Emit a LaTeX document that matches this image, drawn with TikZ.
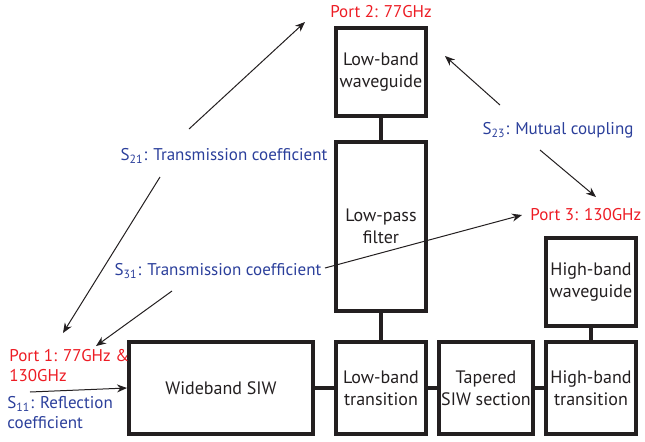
\documentclass[tikz,border=0pt]{standalone}
\usepackage{fontspec}
\setmainfont{PT Sans}
\usetikzlibrary{arrows.meta,positioning}
\definecolor{PortRed}{HTML}{ED1C24}
\definecolor{SparBlue}{HTML}{2B3F9B}
\definecolor{InkGrey}{HTML}{231F20}
\tikzset{
  % Block
  blk/.style={rectangle,draw=InkGrey,line width=2pt,
              minimum width=45pt,minimum height=46pt,
              text centered,align=center,inner sep=1pt,text=InkGrey,
              font=\fontsize{9}{11}\selectfont},
  % Link between blocks
  link/.style={draw=InkGrey,line width=2pt},
  % Arrow
  arr/.style={-{Stealth[length=5pt,width=4pt]},line width=0.5pt,draw=InkGrey},
  % Label styles
  PL/.style={text=PortRed,inner sep=0pt,align=left,
             font=\fontsize{8.5}{10.2}\selectfont},
  SL/.style={text=SparBlue,inner sep=0pt,align=left,
             font=\fontsize{8.5}{10.2}\selectfont}
}

\begin{document}
\begin{tikzpicture}[x=0.5pt,y=-0.5pt]
  \useasboundingbox (0,0) rectangle (645,441);

  % blocks
  \node[blk,minimum height=44pt]   (lbwg) at (381,72)    {Low-band\\waveguide};
  \node[blk,minimum height=84.5pt] (lpf)  at (381,226.5) {Low-pass\\filter};
  \node[blk,minimum width=92pt]    (wsiw) at (221,388)   {Wideband SIW};
  \node[blk]                       (lbtr) at (381,388)   {Low-band\\transition};
  \node[blk]                       (tsiw) at (486,388)   {Tapered\\SIW section};
  \node[blk]                       (hbtr) at (591,388)   {High-band\\transition};
  \node[blk,minimum height=44pt]   (hbwg) at (591,282)   {High-band\\waveguide};

  \draw[link](lbwg)--(lpf);
  \draw[link](lpf)--(lbtr);
  \draw[link](wsiw)--(lbtr);
  \draw[link](lbtr)--(tsiw);
  \draw[link](tsiw)--(hbtr);
  \draw[link](hbwg)--(hbtr);

  % port labels
  \node[PL]                  (p2) at (381,12)  {Port 2: 77GHz};
  \node[PL,anchor=west]      (p3) at (530,215) {Port 3: 130GHz};
  \node[PL,anchor=north west](p1) at (9,349)   {Port 1: 77GHz \&\\130GHz};

  % S-parameter labels
  \node[SL]                  (s21) at (224,156) {S\textsubscript{21}: Transmission coefficient};
  \node[SL]                  (s31) at (218,271) {S\textsubscript{31}: Transmission coefficient};
  \node[SL]                  (s23) at (558,130) {S\textsubscript{23}: Mutual coupling};
  \node[SL,anchor=north west](s11) at (7,396)   {S\textsubscript{11}: Reflection\\coefficient};

  % arrow ends
  \coordinate (s21a) at (189,129);  \coordinate (p2a)  at (305,22);
  \coordinate (s21b) at (160,177);  \coordinate (p1a)  at (63,333);
  \coordinate (s31a) at (325,268);  \coordinate (p3a)  at (522,215);
  \coordinate (s31b) at (172,291);  \coordinate (p1b)  at (96,346);
  \coordinate (s23a) at (500,105);  \coordinate (p2b)  at (445,56);
  \coordinate (s23b) at (540,150);  \coordinate (p3b)  at (596,197);
  \coordinate (s11a) at (30,392);

  \draw[arr](s21a)--(p2a);
  \draw[arr](s21b)--(p1a);
  \draw[arr](s31a)--(p3a);
  \draw[arr](s31b)--(p1b);
  \draw[arr](s23a)--(p2b);
  \draw[arr](s23b)--(p3b);
  \draw[arr](s11a)--(wsiw.west);
\end{tikzpicture}
\end{document}
